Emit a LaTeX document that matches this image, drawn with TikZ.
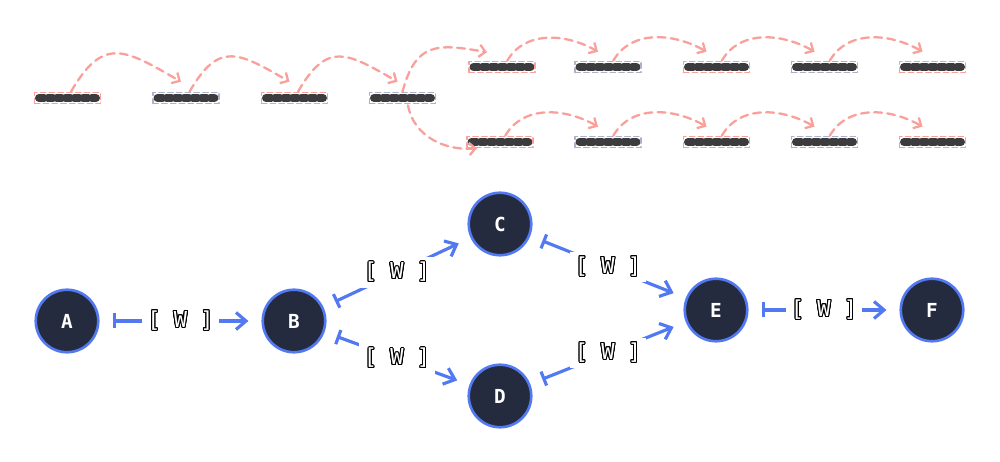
\documentclass[tikz,border=0pt]{standalone}
\usepackage{fontspec}
\setmonofont{DejaVu Sans Mono}
\usepackage{contour}
\contourlength{0.6pt}
\usetikzlibrary{arrows.meta}

\definecolor{edgeblue}{RGB}{82,121,242}
\definecolor{nodenavy}{RGB}{37,43,63}
\definecolor{hopred}{RGB}{250,160,155}
\definecolor{slotgray}{RGB}{172,176,200}
\definecolor{bardark}{RGB}{60,60,62}

\newcommand{\wtag}{\textcolor{white}{\contour{black}{[ W ]}}}

\tikzset{
  slot/.style={draw=#1, line width=0.9pt, dash pattern=on 3pt off 2pt,
    minimum width=1.32cm, minimum height=0.22cm, inner sep=0pt,
    path picture={\draw[bardark, line width=0.16cm, line cap=round]
      ([xshift=0.09cm]path picture bounding box.west) --
      ([xshift=-0.09cm]path picture bounding box.east);}},
  hop/.style={hopred, line width=1.3pt, dash pattern=on 4.5pt off 3pt,
    -{Straight Barb[length=3.5pt,width=7pt]}},
  vertex/.style={circle, fill=nodenavy, draw=edgeblue, line width=1.5pt,
    minimum size=1.25cm, inner sep=0pt, text=white,
    font=\ttfamily\bfseries\fontsize{11}{13}\selectfont},
  link/.style={edgeblue, line width=1.8pt,
    {Bar[width=0.3cm]}-{Straight Barb[length=0.2cm,width=0.34cm]},
    shorten <=0.26cm, shorten >=0.26cm},
  tag/.style={fill=white, inner sep=0.1cm,
    font=\ttfamily\fontsize{12.5}{14}\selectfont}
}

\begin{document}
\begin{tikzpicture}[x=0.02cm,y=0.02cm,line cap=round,line join=round]
  \useasboundingbox (0,0) rectangle (1000,462);

  % slots
  \foreach \x/\c [count=\i] in {67.5/hopred,186/slotgray,294.5/hopred,402.5/slotgray}
    \node[slot=\c] (r\i) at (\x,364) {};
  \foreach \x/\c [count=\i] in {502/hopred,608/slotgray,716.5/hopred,824.5/slotgray,932.5/hopred}
    \node[slot=\c] (u\i) at (\x,395) {};
  \foreach \x/\c [count=\i] in {500/hopred,608/slotgray,716.5/hopred,824.5/slotgray,932.5/hopred}
    \node[slot=\c] (l\i) at (\x,320) {};

  % hops
  \foreach \i/\j in {1/2,2/3,3/4}
    \draw[hop] ([xshift=2]r\i.north) to[out=60,in=150,looseness=1.5] ([shift={(-5,10)}]r\j.north);
  \draw[hop] (r4.north) to[out=75,in=170,looseness=1.4] ([shift={(-15,8.5)}]u1.north);
  \draw[hop] ([shift={(5.5,-1)}]r4.south) to[out=-80,in=185] ([shift={(-23,0)}]l1.south);
  \foreach \r in {u,l}
    \foreach \i/\j in {1/2,2/3,3/4,4/5}
      \draw[hop] ([xshift=3]\r\i.north) to[out=60,in=150] ([shift={(-10,9)}]\r\j.north);

  % graph
  \node[vertex] (A) at (67,141) {A};
  \node[vertex] (B) at (294,141) {B};
  \node[vertex] (C) at (500,238) {C};
  \node[vertex] (D) at (500,66) {D};
  \node[vertex] (E) at (716,152) {E};
  \node[vertex] (F) at (932,152) {F};

  \draw[link] (A) -- node[tag] {\wtag} (B);
  \draw[link] (B) -- node[tag] {\wtag} (C);
  \draw[link] (B) -- node[tag] {\wtag} (D);
  \draw[link] (C) -- node[tag] {\wtag} (E);
  \draw[link] (D) -- node[tag] {\wtag} (E);
  \draw[link] (E) -- node[tag] {\wtag} (F);
\end{tikzpicture}
\end{document}
